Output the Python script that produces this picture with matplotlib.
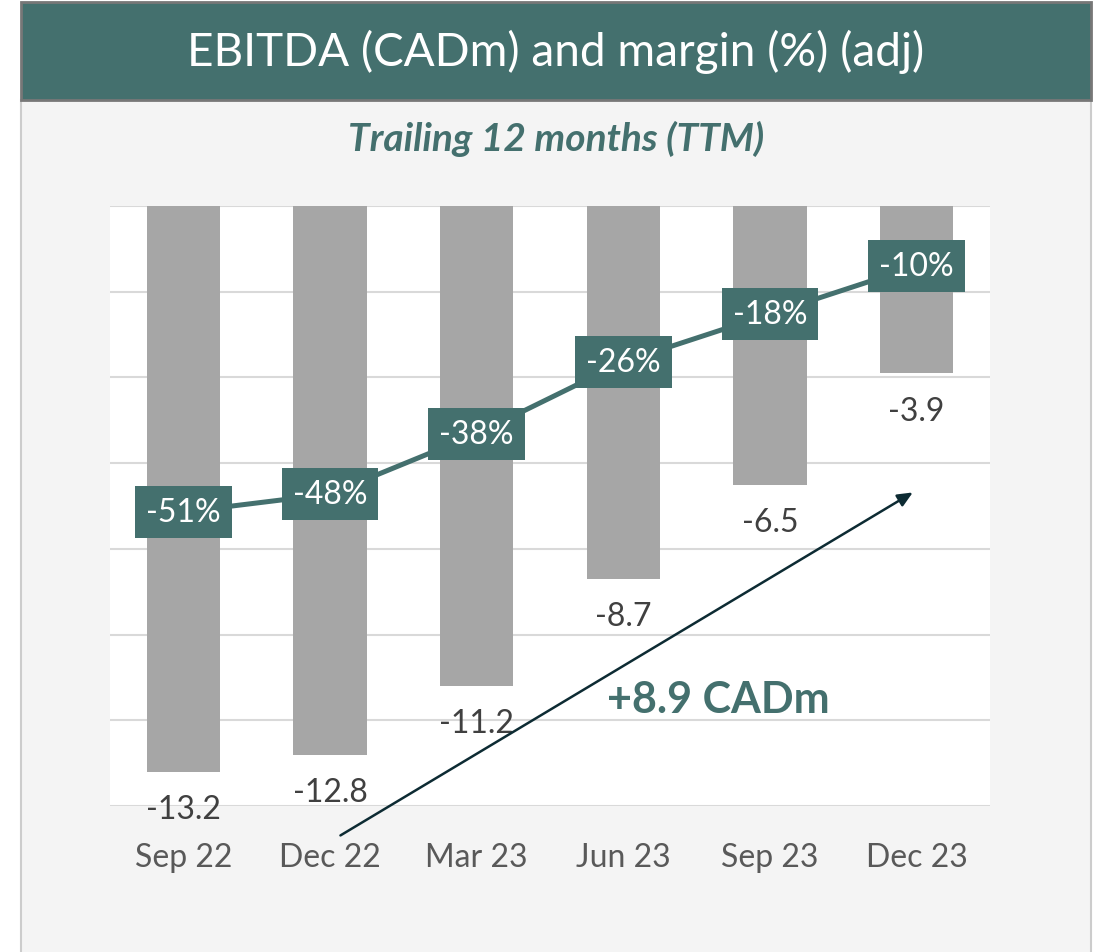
import matplotlib.pyplot as plt
from matplotlib.patches import Rectangle

plt.rcParams['font.family'] = ['Lato', 'DejaVu Sans']

quarters = ["Sep 22", "Dec 22", "Mar 23", "Jun 23", "Sep 23", "Dec 23"]
ebitda = [-13.2, -12.8, -11.2, -8.7, -6.5, -3.9]
margin = [-51, -48, -38, -26, -18, -10]

teal = "#44706E"
bar_grey = "#A6A6A6"

W, H = 1096, 953
fig = plt.figure(figsize=(W / 100, H / 100), dpi=100, facecolor="white")

# panel + header band (behind the axes)
fig.patches.append(Rectangle((21 / W, -0.01), 1070 / W, 1.01 - 101 / H, transform=fig.transFigure,
                             facecolor="#F4F4F4", edgecolor="#CCCCCC", lw=1.5, zorder=-2))
fig.patches.append(Rectangle((21 / W, 1 - 101 / H), 1070 / W, 98 / H, transform=fig.transFigure,
                             facecolor=teal, edgecolor="#777777", lw=2, zorder=-1))
fig.text(556 / W, 1 - 52 / H, "EBITDA (CADm) and margin (%) (adj)", color="white",
         fontsize=33, ha="center", va="center")
fig.text(556 / W, 1 - 139 / H, "Trailing 12 months (TTM)", color=teal, fontsize=28,
         fontweight="bold", fontstyle="italic", ha="center", va="center")

ax = fig.add_axes([110 / W, 1 - 807 / H, 880 / W, 600 / H])
ax.set_facecolor("white")
x = range(len(quarters))
ax.bar(x, ebitda, width=0.5, color=bar_grey, zorder=2)
ax.set_ylim(-14, 0)
ax.set_xlim(-0.5, len(quarters) - 0.5)
ax.set_yticks(range(-14, 1, 2))
ax.yaxis.grid(True, color="#D9D9D9", lw=1.5, zorder=0)
ax.set_axisbelow(True)
for s in ax.spines.values():
    s.set_visible(False)
ax.tick_params(axis="x", length=0, pad=26, labelsize=23, labelcolor="#595959")
ax.set_xticks(list(x))
ax.set_xticklabels(quarters)

for i, v in enumerate(ebitda):
    ax.annotate(f"{v:.1f}", (i, v), xytext=(0, -27), textcoords="offset points",
                ha="center", va="center", fontsize=23, color="#404040", zorder=3)

# arrow annotation
ax.annotate("", xy=(4.99, -6.65), xytext=(1.055, -14.72),
            arrowprops=dict(arrowstyle="-|>,head_length=0.9,head_width=0.4", color="#0D2B33", lw=1.8),
            annotation_clip=False, zorder=4)
ax.text(3.65, -11.5, "+8.9 CADm", color=teal, fontsize=31, fontweight="bold",
        ha="center", va="center", zorder=5)

ax2 = ax.twinx()
ax2.set_ylim(-100, 0)
ax2.plot(list(x), margin, color=teal, lw=3.6, zorder=3)
for s in ax2.spines.values():
    s.set_visible(False)
ax.tick_params(axis="y", left=False, right=False, labelleft=False, length=0)
ax2.tick_params(axis="y", left=False, right=False, labelright=False, length=0)
for i, m in enumerate(margin):
    ax2.text(i, m, f"{m}%", ha="center", va="center", fontsize=23, color="white",
             bbox=dict(boxstyle="square,pad=0.35", facecolor=teal, edgecolor="none"), zorder=4)

fig.savefig("out.png", dpi=100, facecolor="white")
